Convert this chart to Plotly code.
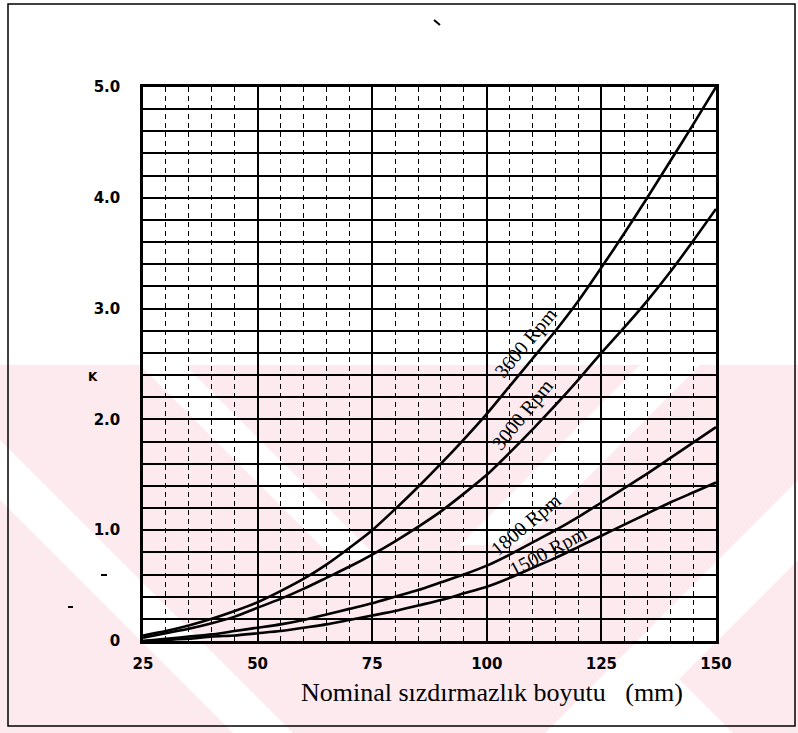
import plotly.graph_objects as go

# ---- data ----
size_mm = [25, 30, 35, 40, 45, 50, 55, 60, 65, 70, 75, 80, 85, 90, 95, 100,
           105, 110, 115, 120, 125, 130, 135, 140, 145, 150]
k_3600 = [0.05, 0.09, 0.14, 0.20, 0.27, 0.35, 0.45, 0.56, 0.69, 0.84, 1.00, 1.19, 1.39,
          1.60, 1.82, 2.05, 2.30, 2.55, 2.80, 3.07, 3.37, 3.68, 4.00, 4.33, 4.66, 5.00]
k_3000 = [0.03, 0.07, 0.11, 0.16, 0.22, 0.30, 0.38, 0.47, 0.57, 0.67, 0.78, 0.90, 1.03,
          1.17, 1.33, 1.50, 1.70, 1.91, 2.13, 2.36, 2.60, 2.83, 3.07, 3.33, 3.61, 3.90]
k_1800 = [0.00, 0.02, 0.04, 0.06, 0.09, 0.12, 0.15, 0.19, 0.24, 0.29, 0.34, 0.40, 0.46,
          0.53, 0.60, 0.68, 0.78, 0.89, 1.00, 1.12, 1.25, 1.38, 1.51, 1.65, 1.79, 1.93]
k_1500 = [0.00, 0.01, 0.02, 0.04, 0.05, 0.07, 0.09, 0.12, 0.15, 0.19, 0.23, 0.27, 0.32,
          0.37, 0.43, 0.49, 0.57, 0.66, 0.75, 0.85, 0.95, 1.05, 1.15, 1.25, 1.34, 1.43]

series_names = ["3600 Rpm", "3000 Rpm", "1800 Rpm", "1500 Rpm"]
series_values = [k_3600, k_3000, k_1800, k_1500]
label_x = [108.6, 107.9, 108.6, 113.3]
label_y = [2.69, 2.04, 1.05, 0.81]
label_angle = [-50, -51, -40, -28]

x_tickvals = [25, 50, 75, 100, 125, 150]
x_ticktext = ["25", "50", "75", "100", "125", "150"]
y_tickvals = [0, 1, 2, 3, 4, 5]
y_ticktext = ["0", "1.0", "2.0", "3.0", "4.0", "5.0"]

W, H = 798, 733
L, R, T, B = 143, 82, 87, 92
PW, PH = W - L - R, H - T - B


def px(xp):
    return (xp - L) / PW


def py(yp):
    return (H - B - yp) / PH


fig = go.Figure()

for name, vals in zip(series_names, series_values):
    fig.add_trace(go.Scatter(x=size_mm, y=vals, mode="lines", name=name,
                             line=dict(color="black", width=2.6, shape="spline", smoothing=0.6),
                             showlegend=False, hoverinfo="x+y+name"))

shapes = []
pink = "#fdeaee"
# watermark-like pink background in lower half
shapes.append(dict(type="rect", xref="paper", yref="paper", x0=px(0), x1=px(W),
                   y0=py(365), y1=py(H), fillcolor=pink, line=dict(width=0), layer="below"))
# white diagonal bands
bands = [
    [(140, 365), (185, 365), (380, 560), (335, 560)],
    [(0, 440), (0, 500), (233, 733), (293, 733)],
    [(640, 365), (700, 365), (520, 545), (460, 545)],
    [(798, 480), (798, 560), (625, 733), (545, 733)],
    [(657, 657), (700, 700), (733, 733), (580, 733)],
]
for poly in bands:
    path = "M " + " L ".join(f"{px(a):.4f},{py(b):.4f}" for a, b in poly) + " Z"
    shapes.append(dict(type="path", xref="paper", yref="paper", path=path,
                       fillcolor="white", line=dict(width=0), layer="below"))

# scanned page frame
shapes.append(dict(type="rect", xref="paper", yref="paper", x0=px(8), x1=px(795),
                   y0=py(4), y1=py(726), line=dict(color="black", width=1.5),
                   fillcolor="rgba(0,0,0,0)", layer="above"))
# small stray scan marks
for (a0, b0, a1, b1) in [(434, 20, 440, 25), (101, 575, 107, 575), (68, 607, 73, 607)]:
    shapes.append(dict(type="line", xref="paper", yref="paper", x0=px(a0), y0=py(b0),
                       x1=px(a1), y1=py(b1), line=dict(color="black", width=2)))

fig.update_layout(shapes=shapes)

annotations = []
for name, lx, ly, ang in zip(series_names, label_x, label_y, label_angle):
    annotations.append(dict(x=lx, y=ly, xref="x", yref="y", text=name, showarrow=False,
                            textangle=ang, font=dict(family="Liberation Serif", size=20, color="black")))
annotations.append(dict(x=px(492), y=py(692), xref="paper", yref="paper",
                        xanchor="center", yanchor="middle",
                        text="Nominal sızdırmazlık boyutu&nbsp;&nbsp;&nbsp;(mm)", showarrow=False,
                        font=dict(family="Liberation Serif", size=26, color="black")))
annotations.append(dict(x=px(93), y=py(377), xref="paper", yref="paper", text="<b>K</b>",
                        xanchor="center", yanchor="middle",
                        showarrow=False, font=dict(family="DejaVu Sans", size=12, color="black")))
fig.update_layout(annotations=annotations)

fig.update_xaxes(range=[25, 150], tickvals=x_tickvals, ticktext=x_ticktext,
                 showgrid=True, gridcolor="black", gridwidth=2,
                 minor=dict(dtick=5, tick0=25, showgrid=True, gridcolor="black", gridwidth=1.4,
                            griddash="5px,4px"),
                 showline=True, linecolor="black", linewidth=2.5, mirror=True,
                 ticks="", ticklabelstandoff=7, zeroline=False,
                 tickfont=dict(family="DejaVu Sans", size=15, color="black", weight="bold"))
fig.update_yaxes(range=[0, 5], tickvals=y_tickvals, ticktext=y_ticktext,
                 showgrid=True, gridcolor="black", gridwidth=2,
                 minor=dict(dtick=0.2, tick0=0, showgrid=True, gridcolor="black", gridwidth=2),
                 showline=True, linecolor="black", linewidth=2.5, mirror=True,
                 ticks="", ticklabelstandoff=17, zeroline=False,
                 tickfont=dict(family="DejaVu Sans", size=15, color="black", weight="bold"))

fig.update_layout(width=W, height=H, margin=dict(l=L, r=R, t=T, b=B),
                  paper_bgcolor="white", plot_bgcolor="rgba(0,0,0,0)")

fig.write_html("out.html")
